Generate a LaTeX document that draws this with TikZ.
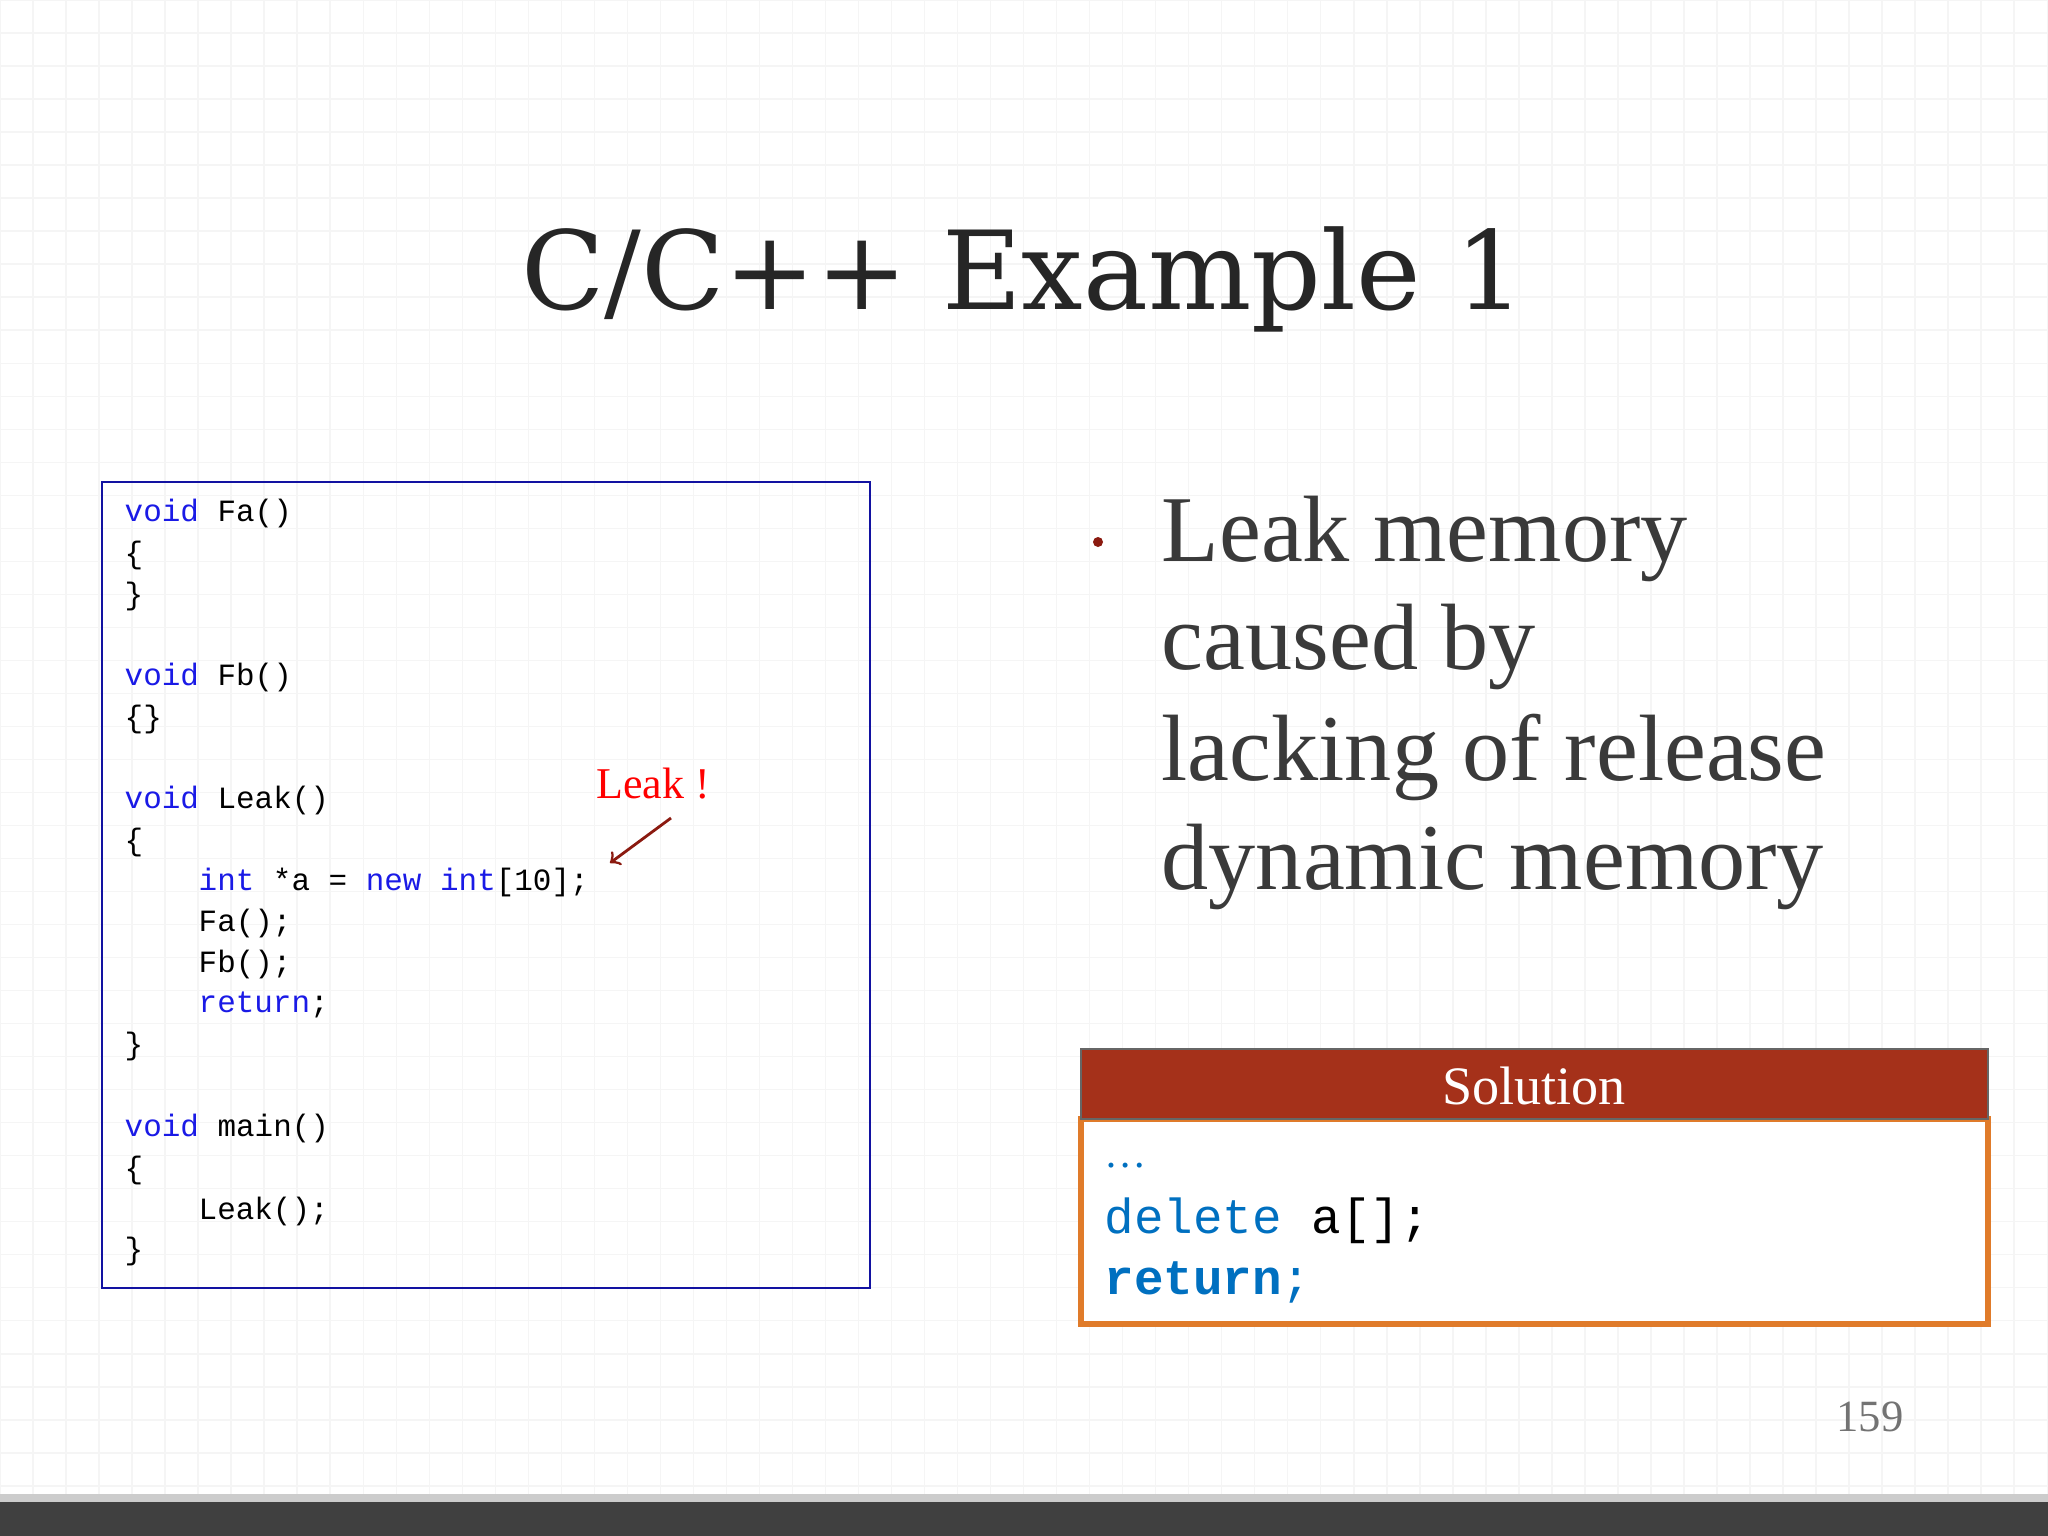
\documentclass[tikz,border=0pt]{standalone}
\usepackage{fontspec}
\setmainfont{Liberation Serif}
\newfontfamily\codefont{Liberation Mono}
\newfontfamily\titlefont{DejaVu Serif}
\definecolor{kw}{HTML}{1A1AE6}
\definecolor{darkred}{HTML}{8B1A10}
\definecolor{solhead}{HTML}{A5311A}
\definecolor{solborder}{HTML}{E07B2A}
\definecolor{codeblue}{HTML}{0070C0}
\definecolor{txt}{HTML}{3A3A3A}
\tikzset{
  code/.style={anchor=west,inner sep=0,font=\codefont\fontsize{8.8}{10}\selectfont},
  bul/.style={anchor=west,inner sep=0,font=\fontsize{26.8}{30}\selectfont,text=txt},
  sol/.style={anchor=west,inner sep=0,font=\codefont\fontsize{14}{16}\selectfont},
}
\begin{document}
\begin{tikzpicture}[x=0.01cm,y=-0.01cm]
\useasboundingbox (0,0) rectangle (2048,1536);
\fill[white] (0,0) rectangle (2048,1536);
\draw[black!4,step=0.33cm] (0,0) grid (2048,1500);
\fill[black!75] (0,1502) rectangle (2048,1536);
\fill[black!20] (0,1494) rectangle (2048,1502);
\node[font=\titlefont\fontsize{31}{34}\selectfont,text=black!85] (title) at (1023,279) {C/C++ Example 1};
% code box
\draw[kw!70!black,line width=0.8pt] (102,482) rectangle (870,1288);
\begin{scope}[every node/.style={code}]
\node (l1) at (124,513) {\textcolor{kw}{void} Fa()};
\node (l2) at (124,555) {\{};
\node (l3) at (124,596) {\}};
\node (l4) at (124,677) {\textcolor{kw}{void} Fb()};
\node (l5) at (124,719) {\{\}};
\node (l6) at (124,800) {\textcolor{kw}{void} Leak()};
\node (l7) at (124,842) {\{};
\node (l8) at (198,882) {\textcolor{kw}{int} *a = \textcolor{kw}{new} \textcolor{kw}{int}[10];};
\node (l9) at (198,923) {Fa();};
\node (l10) at (198,964) {Fb();};
\node (l11) at (198,1005) {\textcolor{kw}{return};};
\node (l12) at (124,1046) {\}};
\node (l13) at (124,1128) {\textcolor{kw}{void} main()};
\node (l14) at (124,1170) {\{};
\node (l15) at (198,1211) {Leak();};
\node (l16) at (124,1251) {\}};
\end{scope}
\node[text=red,font=\fontsize{12.5}{15}\selectfont] (leak) at (653,784) {Leak !};
\coordinate (ls) at (671,818);
\coordinate (le) at (610,863);
\draw[darkred,->,line width=0.8pt] (ls) -- (le);
% bullets
\fill[darkred] (1098,542) circle (5);
\node[bul] (b1) at (1161,539) {Leak memory};
\node[bul] (b2) at (1161,647) {caused by};
\node[bul] (b3) at (1161,757) {lacking of release};
\node[bul] (b4) at (1161,867) {dynamic memory};
% solution
\fill[white] (1081,1049) rectangle (1988,1324);
\draw[solborder,line width=1.5pt] (1081,1119) rectangle (1988,1324);
\fill[solhead] (1081,1049) rectangle (1988,1119);
\draw[black!60,line width=0.8pt] (1081,1049) rectangle (1988,1119);
\node[text=white,font=\fontsize{15.4}{18}\selectfont] (solt) at (1534,1086) {Solution};
\node[anchor=west,inner sep=0,text=codeblue,font=\fontsize{12}{14}\selectfont] (s0) at (1104,1166) {\dots};
\node[sol] (s1) at (1104,1221) {\textcolor{codeblue}{delete} a[];};
\node[sol,text=codeblue] (s2) at (1104,1282) {\textbf{return};};
\node[text=black!55,font=\fontsize{12.7}{15}\selectfont] (pg) at (1870,1417) {159};
\end{tikzpicture}
\end{document}
